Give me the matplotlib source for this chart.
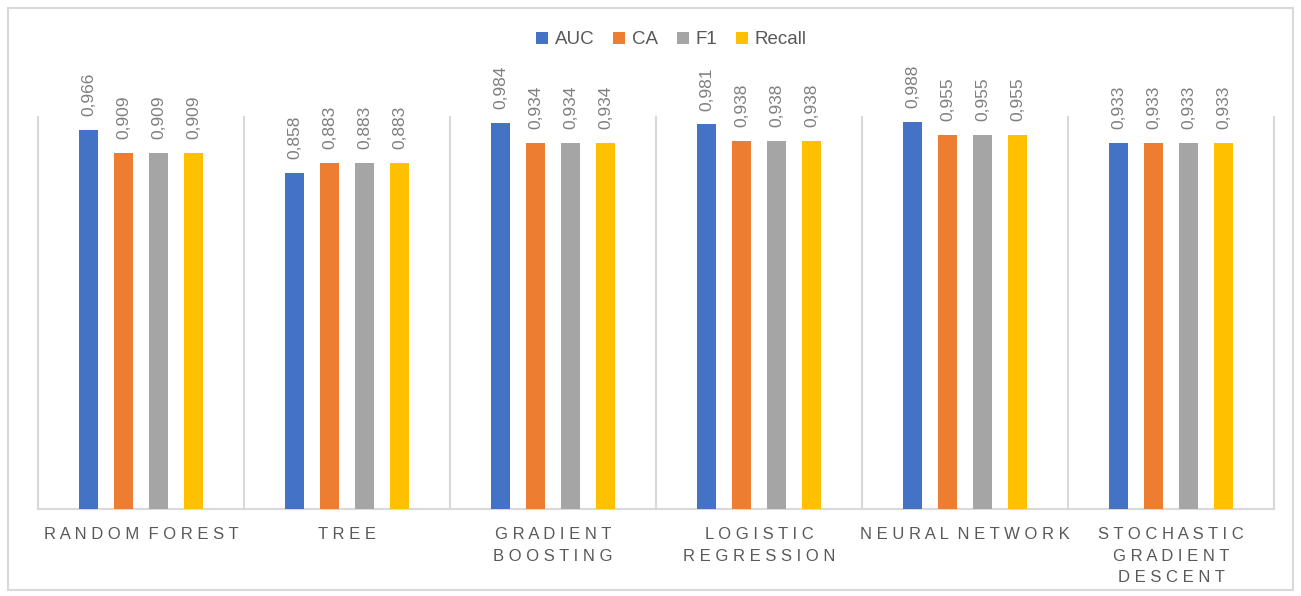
import matplotlib
matplotlib.use("Agg")
import matplotlib.pyplot as plt
from matplotlib.patches import Rectangle
import numpy as np

categories = ["RANDOM FOREST", "TREE", "GRADIENT\nBOOSTING", "LOGISTIC\nREGRESSION",
              "NEURAL NETWORK", "STOCHASTIC\nGRADIENT\nDESCENT"]
series_names = ["AUC", "CA", "F1", "Recall"]
auc = [0.966, 0.858, 0.984, 0.981, 0.988, 0.933]
ca = [0.909, 0.883, 0.934, 0.938, 0.955, 0.933]
f1 = [0.909, 0.883, 0.934, 0.938, 0.955, 0.933]
recall = [0.909, 0.883, 0.934, 0.938, 0.955, 0.933]
series_values = [auc, ca, f1, recall]
colors = ["#4472C4", "#ED7D31", "#A5A5A5", "#FFC000"]

plt.rcParams['font.family'] = ['Liberation Sans', 'DejaVu Sans']

fig = plt.figure(figsize=(13.01, 5.96), dpi=100)
ax = fig.add_axes([38/1301, 87/596, (1274-38)/1301, (509-117)/596])

x = np.arange(len(categories))
spacing = 0.17
width = 0.088
for k, (name, vals, c) in enumerate(zip(series_names, series_values, colors)):
    bars = ax.bar(x + (k - 1.5) * spacing, vals, width, color=c, label=name, zorder=3)
    for b, v in zip(bars, vals):
        ax.annotate(f"{v:.3f}".replace(".", ","),
                    (b.get_x() + b.get_width() / 2, b.get_height()),
                    xytext=(0, 10), textcoords="offset points",
                    rotation=90, ha="center", va="bottom",
                    fontsize=12.5, color="#7F7F7F")

ax.set_xlim(-0.5, len(categories) - 0.5)
ax.set_ylim(0, 1.0)
for sep in np.arange(-0.5, len(categories), 1.0):
    ax.plot([sep, sep], [0, 1.0], color="#D9D9D9", lw=1.5, zorder=1, clip_on=False)

for s in ["top", "left", "right"]:
    ax.spines[s].set_visible(False)
ax.spines["bottom"].set_color("#D9D9D9")
ax.spines["bottom"].set_linewidth(1.5)
ax.set_yticks([])
ax.set_xticks(x)

def spaced(label):
    lines = []
    for line in label.split("\n"):
        words = [" ".join(w) for w in line.split(" ")]
        lines.append("  ".join(words))
    return "\n".join(lines)

ax.set_xticklabels([spaced(c) for c in categories], fontsize=12, color="#595959",
                   linespacing=1.55)
ax.tick_params(axis="x", length=0, pad=13)

leg = fig.legend(loc="center", bbox_to_anchor=(0.516, 1 - 40/596), ncol=4, frameon=False,
                 fontsize=13.5, handlelength=0.65, handleheight=0.65, handletextpad=0.35,
                 columnspacing=1.0, labelcolor="#595959")

fig.patches.append(Rectangle((8/1301, 6/596), (1293-8)/1301, (588-6)/596,
                             transform=fig.transFigure, fill=False,
                             edgecolor="#D9D9D9", lw=1.5))

fig.savefig("out.png", dpi=100, facecolor="white")
